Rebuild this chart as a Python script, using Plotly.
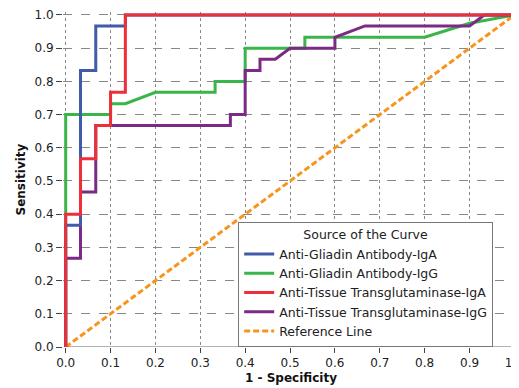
import plotly.graph_objects as go

# ROC curve points (1 - specificity, sensitivity)
agiga_x = [0, 0, 0.033, 0.033, 0.067, 0.067, 0.133, 0.133, 1.0]
agiga_y = [0, 0.367, 0.367, 0.833, 0.833, 0.967, 0.967, 1.0, 1.0]

agigg_x = [0, 0, 0.1, 0.1, 0.133, 0.2, 0.333, 0.333, 0.4, 0.4, 0.533, 0.533, 0.8, 0.9, 1.0]
agigg_y = [0, 0.7, 0.7, 0.733, 0.733, 0.767, 0.767, 0.8, 0.8, 0.9, 0.9, 0.933, 0.933, 0.975, 1.0]

ttga_x = [0, 0, 0.033, 0.033, 0.067, 0.067, 0.1, 0.1, 0.133, 0.133, 1.0]
ttga_y = [0, 0.4, 0.4, 0.567, 0.567, 0.667, 0.667, 0.767, 0.767, 1.0, 1.0]

ttgg_x = [0, 0, 0.033, 0.033, 0.067, 0.067, 0.367, 0.367, 0.4, 0.4, 0.433, 0.433, 0.467, 0.5,
          0.6, 0.6, 0.667, 0.9, 0.933, 1.0]
ttgg_y = [0, 0.267, 0.267, 0.467, 0.467, 0.667, 0.667, 0.7, 0.7, 0.833, 0.833, 0.867, 0.867, 0.9,
          0.9, 0.933, 0.967, 0.967, 1.0, 1.0]

ref_x = [0, 1]
ref_y = [0, 1]

names = ["Anti-Gliadin Antibody-IgA", "Anti-Gliadin Antibody-IgG",
         "Anti-Tissue Transglutaminase-IgA", "Anti-Tissue Transglutaminase-IgG",
         "Reference Line"]
colors = ["#3f5ba9", "#3ab54a", "#ee2e38", "#7b2a86", "#f7941d"]

tick_vals = [0.0, 0.1, 0.2, 0.3, 0.4, 0.5, 0.6, 0.7, 0.8, 0.9, 1.0]
tick_text = ["0.0", "0.1", "0.2", "0.3", "0.4", "0.5", "0.6", "0.7", "0.8", "0.9", "1.0"]

FONT = "DejaVu Sans"

fig = go.Figure()
fig.add_trace(go.Scatter(x=ref_x, y=ref_y, mode="lines", name=names[4], showlegend=False,
                         line=dict(color=colors[4], width=3, dash="6px,3px")))
series = [(agigg_x, agigg_y, 1), (ttgg_x, ttgg_y, 3), (agiga_x, agiga_y, 0), (ttga_x, ttga_y, 2)]
for xs, ys, i in series:
    fig.add_trace(go.Scatter(x=xs, y=ys, mode="lines", name=names[i], showlegend=False,
                             line=dict(color=colors[i], width=3)))
# legend entries in order
for i in range(5):
    fig.add_trace(go.Scatter(x=[None], y=[None], mode="lines", name=names[i],
                             line=dict(color=colors[i], width=3,
                                       dash="6px,3px" if i == 4 else "solid")))

# the page body has an 8px margin, so the figure is sized/offset to compensate
fig.update_layout(
    width=511, height=380,
    margin=dict(l=55, r=1, t=4, b=41, autoexpand=False),
    paper_bgcolor="white", plot_bgcolor="white",
    font=dict(family=FONT, size=12, color="#222"),
    xaxis=dict(range=[-0.006, 1.008], tickvals=tick_vals, ticktext=tick_text,
               showgrid=True, gridcolor="#888", griddash="dot", gridwidth=1,
               zeroline=False, showline=False, automargin=False,
               ticklabeloverflow="allow",
               ticks="outside", ticklen=5, tickcolor="#444"),
    yaxis=dict(range=[0, 1.009], tickvals=tick_vals, ticktext=tick_text,
               showgrid=True, gridcolor="#888", griddash="dash", gridwidth=1,
               zeroline=False, showline=False, automargin=False,
               ticks="outside", ticklen=6, tickcolor="#444"),
    legend=dict(x=0.385, y=0, xanchor="left", yanchor="bottom",
                bgcolor="white", bordercolor="#777", borderwidth=1,
                font=dict(size=12.5, color="#222"),
                title=dict(text="Source of the Curve", side="top center", font=dict(size=12.5)),
                tracegroupgap=0, itemwidth=30),
    showlegend=True,
)
fig.add_shape(type="line", xref="x", yref="y", x0=0, x1=1.008, y0=0, y1=0,
              line=dict(color="#999", width=1.5), layer="below")
fig.add_annotation(text="<b>1 - Specificity</b>", xref="paper", yref="paper",
                   x=0.5, y=-0.0925, xanchor="center", yanchor="middle", showarrow=False,
                   font=dict(family=FONT, size=12, color="#111"))
fig.add_annotation(text="<b>Sensitivity</b>", xref="paper", yref="paper",
                   x=-0.0945, y=0.5, xanchor="center", yanchor="middle", showarrow=False,
                   textangle=-90, font=dict(family=FONT, size=12, color="#111"))

fig.write_html("out.html")
